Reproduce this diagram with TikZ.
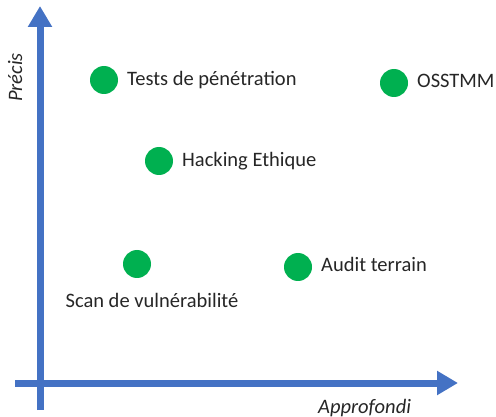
\documentclass[tikz,border=0pt]{standalone}
\usepackage{fontspec}
\setmainfont{Carlito}
\usetikzlibrary{arrows.meta}
\definecolor{axisblue}{HTML}{4472C4}
\definecolor{dotgreen}{HTML}{00B050}
\definecolor{txt}{HTML}{262626}
\begin{document}
\begin{tikzpicture}[x=1pt,y=-1pt,
  axis/.style={draw=axisblue,line width=7pt,-{Triangle[width=23pt,length=21pt]}},
  dot/.style={circle,fill=dotgreen,minimum size=28pt,inner sep=0pt},
  lbl/.style={anchor=base west,inner sep=0pt,text=txt,font=\fontsize{20.5}{24}\selectfont},
  axlbl/.style={lbl,font=\fontsize{20.5}{24}\selectfont\itshape}]
\useasboundingbox (0,0) rectangle (496,417);
\coordinate (ybot) at (40,410);
\coordinate (ytop) at (40,6);
\coordinate (xleft) at (15,383);
\coordinate (xright) at (458,383);
\draw[axis] (ybot) -- (ytop);
\draw[axis] (xleft) -- (xright);
\node[axlbl,rotate=90] (precis) at (22,102) {Précis};
\node[axlbl] (approf) at (318,413) {Approfondi};
\node[dot] (tests) at (104,80) {};
\node[lbl] (testsl) at (127,86) {Tests de pénétration};
\node[dot] (osstmm) at (394,83) {};
\node[lbl] (osstmml) at (417,88) {OSSTMM};
\node[dot] (hack) at (159,161) {};
\node[lbl] (hackl) at (182,167) {Hacking Ethique};
\node[dot] (scan) at (137,264) {};
\node[lbl,anchor=base] (scanl) at (152,308) {Scan de vulnérabilité};
\node[dot] (audit) at (298,267) {};
\node[lbl] (auditl) at (321,272) {Audit terrain};
\end{tikzpicture}
\end{document}
